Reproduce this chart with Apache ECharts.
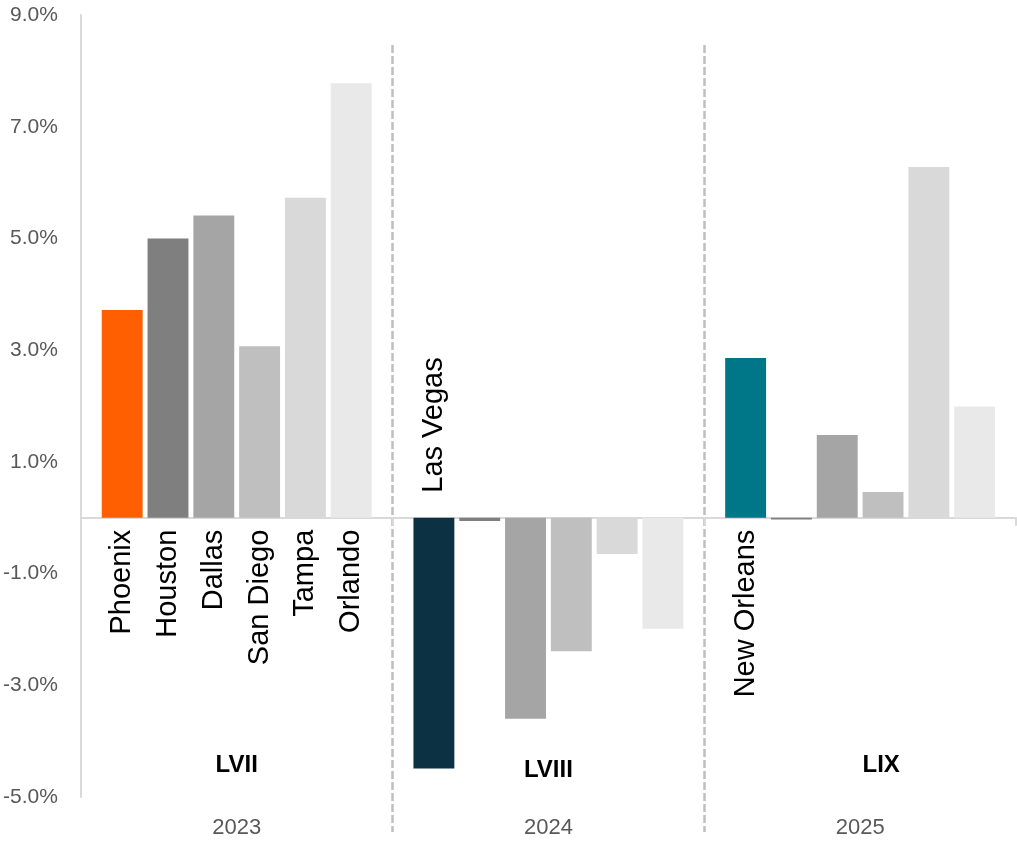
<!DOCTYPE html>
<html>
<head>
<meta charset="utf-8">
<title>Host city growth by Super Bowl year</title>
<script src="https://cdn.jsdelivr.net/npm/echarts@6/dist/echarts.min.js"></script>
<style>
  html, body { margin: 0; padding: 0; background: #ffffff; }
  #chart { width: 1017px; height: 842px; }
</style>
</head>
<body>
<div id="chart"></div>
<script>
// Year groups along the x axis and the game each one belongs to
const years = ['2023', '2024', '2025'];
const eras = ['LVII', 'LVIII', 'LIX'];

// City names per bar (blank = no label drawn)
const cities2023 = ['Phoenix', 'Houston', 'Dallas', 'San Diego', 'Tampa', 'Orlando'];
const cities2024 = ['Las Vegas', '', '', '', '', ''];
const cities2025 = ['New Orleans', '', '', '', '', ''];

// Percent change for each bar
const values2023 = [3.72, 5.00, 5.41, 3.07, 5.73, 7.78];
const values2024 = [-4.49, -0.06, -3.60, -2.39, -0.65, -1.99];
const values2025 = [2.86, -0.03, 1.48, 0.46, 6.28, 1.99];

// Y axis range and tick step
const yMin = -5;
const yMax = 9;
const yStep = 2;

const hostColors = ['#FF5F00', '#0C3142', '#007789'];
const peerColors = ['#7F7F7F', '#A5A5A5', '#BFBFBF', '#D9D9D9', '#E9E9E9'];

const allValues = [values2023, values2024, values2025];
const allCities = [cities2023, cities2024, cities2025];
const FONT = '"Liberation Sans", Arial, sans-serif';

const barSeries = [];
for (let j = 0; j < 6; j++) {
  barSeries.push({
    type: 'bar',
    xAxisIndex: 0,
    yAxisIndex: 0,
    barCategoryGap: '13.4%',
    barGap: '12%',
    silent: true,
    data: years.map((y, i) => {
      const v = allValues[i][j];
      const name = allCities[i][j];
      const up = v >= 0;
      return {
        value: v,
        itemStyle: { color: j === 0 ? hostColors[i] : peerColors[j - 1] },
        label: {
          show: name !== '',
          formatter: name,
          position: up ? 'bottom' : 'top',
          distance: up ? 12 : 25,
          rotate: 90,
          align: up ? 'right' : 'left',
          verticalAlign: 'middle',
          color: '#000000',
          fontFamily: FONT,
          fontSize: 29
        }
      };
    })
  });
}

// Game numerals placed low inside each year group
const eraY = [-4.43, -4.52, -4.43];
const eraShift = [0, 0, 21];
const eraSeries = {
  type: 'scatter',
  xAxisIndex: 0,
  yAxisIndex: 0,
  symbolSize: 0,
  silent: true,
  z: 5,
  itemStyle: { opacity: 1 },
  data: eras.map((e, i) => ({
    name: e,
    value: [i, eraY[i]],
    label: { offset: [eraShift[i], 0] }
  })),
  label: {
    show: true,
    position: 'inside',
    formatter: '{b}',
    color: '#000000',
    opacity: 1,
    textBorderWidth: 0,
    fontFamily: FONT,
    fontWeight: 'bold',
    fontSize: 24
  }
};

const chart = echarts.init(document.getElementById('chart'), null, { renderer: 'canvas' });
chart.setOption({
  animation: false,
  backgroundColor: '#ffffff',
  grid: [
    { left: 80, right: 1, top: 15, bottom: 45, containLabel: false },
    { left: 80, right: 1, top: 45, bottom: 10, containLabel: false }
  ],
  xAxis: [
    {
      // year labels along the bottom
      type: 'category',
      gridIndex: 0,
      data: years,
      position: 'bottom',
      boundaryGap: true,
      axisLine: { show: false, onZero: false },
      axisTick: { show: false },
      splitLine: { show: false },
      axisLabel: {
        margin: 20,
        color: '#595959',
        fontFamily: FONT,
        fontSize: 22
      }
    },
    {
      // baseline drawn at zero
      type: 'category',
      gridIndex: 0,
      data: years,
      boundaryGap: true,
      axisLine: { show: true, onZero: true, lineStyle: { color: '#D9D9D9', width: 2 } },
      axisTick: { show: true, inside: true, length: 8, lineStyle: { color: '#D9D9D9', width: 2 } },
      axisLabel: { show: false },
      splitLine: { show: false }
    },
    {
      // dashed separators between year groups
      type: 'category',
      gridIndex: 1,
      data: years,
      boundaryGap: true,
      axisLine: { show: false },
      axisTick: { show: false },
      axisLabel: { show: false },
      splitLine: {
        show: true,
        interval: 0,
        showMinLine: false,
        showMaxLine: false,
        lineStyle: { color: '#BFBFBF', width: 2.5, type: [8, 3] }
      }
    }
  ],
  yAxis: [
    {
      type: 'value',
      gridIndex: 0,
      min: yMin,
      max: yMax,
      interval: yStep,
      axisLine: { show: true, onZero: false, lineStyle: { color: '#D9D9D9', width: 2 } },
      axisTick: { show: false },
      splitLine: { show: false },
      axisLabel: {
        margin: 23,
        color: '#595959',
        fontFamily: FONT,
        fontSize: 21,
        formatter: v => v.toFixed(1) + '%'
      }
    },
    {
      type: 'value',
      gridIndex: 1,
      min: 0,
      max: 1,
      show: false
    }
  ],
  series: barSeries.concat([eraSeries])
});
</script>
</body>
</html>
